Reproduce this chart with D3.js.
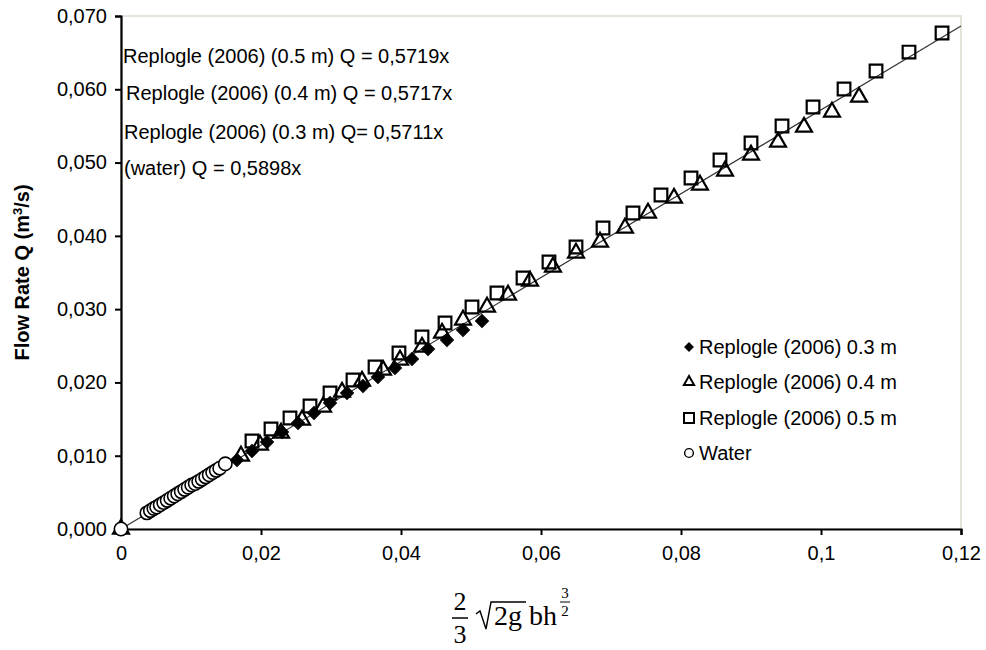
<!DOCTYPE html>
<html>
<head>
<meta charset="utf-8">
<script src="https://cdn.jsdelivr.net/npm/d3@7"></script>
<style>
  html, body { margin: 0; padding: 0; background: #fff; }
  svg { display: block; }
  text { fill: #000; }
</style>
</head>
<body>
<svg id="chart" width="986" height="650"></svg>
<script>
// ---------- DATA ----------
const xTicks = [0, 0.02, 0.04, 0.06, 0.08, 0.10, 0.12];
const xTickLabels = ["0", "0,02", "0,04", "0,06", "0,08", "0,1", "0,12"];
const yTicks = [0, 0.01, 0.02, 0.03, 0.04, 0.05, 0.06, 0.07];
const yTickLabels = ["0,000", "0,010", "0,020", "0,030", "0,040", "0,050", "0,060", "0,070"];

// Replogle (2006) 0.3 m
const r03X = [0.01657, 0.01871, 0.02086, 0.02300, 0.02529, 0.02757, 0.02986, 0.03229, 0.03457, 0.03671, 0.03914, 0.04157, 0.04386, 0.04657, 0.04886, 0.05157];
const r03Y = [0.00941, 0.01064, 0.01187, 0.01324, 0.01446, 0.01583, 0.01719, 0.01856, 0.01951, 0.02074, 0.02197, 0.02320, 0.02456, 0.02579, 0.02715, 0.02838];

// Replogle (2006) 0.4 m
const r04X = [0, 0.01714, 0.01986, 0.02286, 0.02586, 0.02886, 0.03157, 0.03443, 0.03743, 0.03986, 0.04300, 0.04586, 0.04886, 0.05229, 0.05529, 0.05843, 0.06171, 0.06500, 0.06843, 0.07200, 0.07529, 0.07900, 0.08271, 0.08629, 0.09000, 0.09386, 0.09757, 0.10157, 0.10543];
const r04Y = [0, 0.00996, 0.01146, 0.01310, 0.01487, 0.01665, 0.01869, 0.02019, 0.02169, 0.02306, 0.02483, 0.02674, 0.02852, 0.03029, 0.03193, 0.03384, 0.03575, 0.03766, 0.03916, 0.04107, 0.04312, 0.04516, 0.04694, 0.04885, 0.05103, 0.05280, 0.05485, 0.05690, 0.05894];

// Replogle (2006) 0.5 m
const r05X = [0.01871, 0.02143, 0.02414, 0.02700, 0.02986, 0.03314, 0.03629, 0.03971, 0.04300, 0.04629, 0.05014, 0.05371, 0.05743, 0.06114, 0.06500, 0.06886, 0.07314, 0.07714, 0.08143, 0.08557, 0.09000, 0.09443, 0.09886, 0.10329, 0.10786, 0.11257, 0.11729];
const r05Y = [0.01201, 0.01364, 0.01515, 0.01678, 0.01856, 0.02033, 0.02210, 0.02401, 0.02620, 0.02811, 0.03029, 0.03220, 0.03425, 0.03643, 0.03848, 0.04107, 0.04312, 0.04557, 0.04789, 0.05035, 0.05267, 0.05499, 0.05758, 0.06004, 0.06249, 0.06508, 0.06768];

// Water
const waterX = [0, 0.0037, 0.0042, 0.0047, 0.0051, 0.0056, 0.0061, 0.0066, 0.0071, 0.0076, 0.0081, 0.0086, 0.0091, 0.0096, 0.0101, 0.0106, 0.0111, 0.0116, 0.0121, 0.0126, 0.0131, 0.0136, 0.0141, 0.0149];
const waterY = [0, 0.0022, 0.0025, 0.0028, 0.0030, 0.0033, 0.0036, 0.0039, 0.0042, 0.0045, 0.0048, 0.0051, 0.0054, 0.0057, 0.0060, 0.0062, 0.0065, 0.0068, 0.0071, 0.0074, 0.0077, 0.0080, 0.0083, 0.0089];

// Trend line (Q = 0.5719 x)
const trendSlope = 0.5719;
const trendX = [0, 0.12];

const equations = [
  "Replogle (2006) (0.5 m) Q = 0,5719x",
  "Replogle (2006) (0.4 m) Q = 0,5717x",
  "Replogle (2006) (0.3 m) Q= 0,5711x",
  "(water) Q = 0,5898x"
];
const legendLabels = ["Replogle (2006) 0.3 m", "Replogle (2006) 0.4 m", "Replogle (2006) 0.5 m", "Water"];

// ---------- CHART ----------
const sans = "Liberation Sans, Arial, sans-serif";
const serif = "Liberation Serif, Times New Roman, serif";
const svg = d3.select("#chart").style("font-family", sans);
const pLeft = 121, pRight = 961, pTop = 16, pBottom = 529;

const x = d3.scaleLinear().domain([0, 0.12]).range([pLeft, pRight]);
const y = d3.scaleLinear().domain([0, 0.07]).range([pBottom, pTop]);

// plot area border (light)
svg.append("rect")
  .attr("x", pLeft).attr("y", pTop)
  .attr("width", pRight - pLeft).attr("height", pBottom - pTop)
  .attr("fill", "none").attr("stroke", "#e6e4da").attr("stroke-width", 2);

// trend line
svg.append("line")
  .attr("x1", x(trendX[0])).attr("y1", y(trendX[0] * trendSlope))
  .attr("x2", x(trendX[1])).attr("y2", y(trendX[1] * trendSlope))
  .attr("stroke", "#333").attr("stroke-width", 1.2);

// axes
const xAxis = d3.axisBottom(x).tickValues(xTicks)
  .tickFormat((d, i) => xTickLabels[i]).tickSize(6).tickPadding(6);
const yAxis = d3.axisLeft(y).tickValues(yTicks)
  .tickFormat((d, i) => yTickLabels[i]).tickSize(6).tickPadding(8);

const gx = svg.append("g").attr("transform", `translate(0,${pBottom})`).call(xAxis);
const gy = svg.append("g").attr("transform", `translate(${pLeft},0)`).call(yAxis);
[gx, gy].forEach(g => {
  g.attr("font-family", sans).attr("font-size", 20);
  g.select(".domain").attr("stroke", "#000").attr("stroke-width", 2.2);
  g.selectAll(".tick line").attr("stroke", "#000").attr("stroke-width", 2);
  g.selectAll(".tick text").attr("fill", "#000");
});
gx.selectAll(".tick text").attr("dy", "0.95em");

// markers
const sym = (type, size) => d3.symbol().type(type).size(size)();
const diamondPath = d3.symbol().type(d3.symbolSquare).size(85)();

function plotSeries(xs, ys, path, opts) {
  svg.append("g").selectAll("path")
    .data(xs.map((v, i) => [v, ys[i]]))
    .join("path")
    .attr("d", path)
    .attr("transform", d => `translate(${x(d[0])},${y(d[1])})${opts.rotate ? " rotate(45)" : ""}`)
    .attr("fill", opts.fill)
    .attr("stroke", "#000")
    .attr("stroke-width", opts.sw);
}

plotSeries(r03X, r03Y, diamondPath, { fill: "#000", sw: 1, rotate: true });
plotSeries(r04X, r04Y, sym(d3.symbolTriangle, 110), { fill: "none", sw: 2.2 });
plotSeries(r05X, r05Y, sym(d3.symbolSquare, 160), { fill: "none", sw: 2.2 });
plotSeries(waterX, waterY, sym(d3.symbolCircle, 140), { fill: "#fff", sw: 1.6 });

// equations
const eqX = [123, 126, 124, 124];
const eqY = [63, 100, 139, 175];
svg.append("g").selectAll("text").data(equations).join("text")
  .attr("x", (d, i) => eqX[i]).attr("y", (d, i) => eqY[i])
  .style("font-family", sans).attr("font-size", 20).text(d => d);

// legend
const legY = [347, 382, 418, 453];
const lg = svg.append("g");
const legendSyms = [
  { p: d3.symbol().type(d3.symbolSquare).size(36)(), fill: "#000", sw: 1, rot: true },
  { p: sym(d3.symbolTriangle, 45), fill: "none", sw: 2 },
  { p: sym(d3.symbolSquare, 100), fill: "none", sw: 2 },
  { p: sym(d3.symbolCircle, 60), fill: "#fff", sw: 1.4 }
];
legendLabels.forEach((lab, i) => {
  lg.append("path").attr("d", legendSyms[i].p)
    .attr("transform", `translate(689,${legY[i]})${legendSyms[i].rot ? " rotate(45)" : ""}`)
    .attr("fill", legendSyms[i].fill).attr("stroke", "#000").attr("stroke-width", legendSyms[i].sw);
  lg.append("text").attr("x", 699).attr("y", legY[i]).attr("dy", "0.35em")
    .style("font-family", sans).attr("font-size", 20).text(lab);
});

// y-axis title
svg.append("text")
  .attr("transform", `translate(29,${(pTop + pBottom) / 2}) rotate(-90)`)
  .attr("text-anchor", "middle").style("font-family", sans)
  .attr("font-size", 20).attr("font-weight", "bold")
  .html('Flow Rate Q (m<tspan dy="-7" font-size="13">3</tspan><tspan dy="7">/s)</tspan>');

// x-axis title (math expression)
const mg = svg.append("g").style("font-family", serif);
function mtext(tx, ty, size, str, anchor) {
  mg.append("text").attr("x", tx).attr("y", ty).attr("font-size", size)
    .attr("text-anchor", anchor || "start").style("font-family", serif).text(str);
}
mtext(460, 610, 26, "2", "middle");
mg.append("line").attr("x1", 452).attr("x2", 468).attr("y1", 618).attr("y2", 618)
  .attr("stroke", "#000").attr("stroke-width", 1.5);
mtext(460, 643, 26, "3", "middle");
mg.append("path")
  .attr("d", "M476,614 L480,611 L486,629 L491,602 L526,602")
  .attr("fill", "none").attr("stroke", "#000").attr("stroke-width", 1.4);
mtext(494, 625, 28, "2g");
mtext(529, 625, 28, "bh");
mtext(565, 598, 15, "3", "middle");
mg.append("line").attr("x1", 560).attr("x2", 570).attr("y1", 602).attr("y2", 602)
  .attr("stroke", "#000").attr("stroke-width", 1);
mtext(565, 616, 15, "2", "middle");
</script>
</body>
</html>
